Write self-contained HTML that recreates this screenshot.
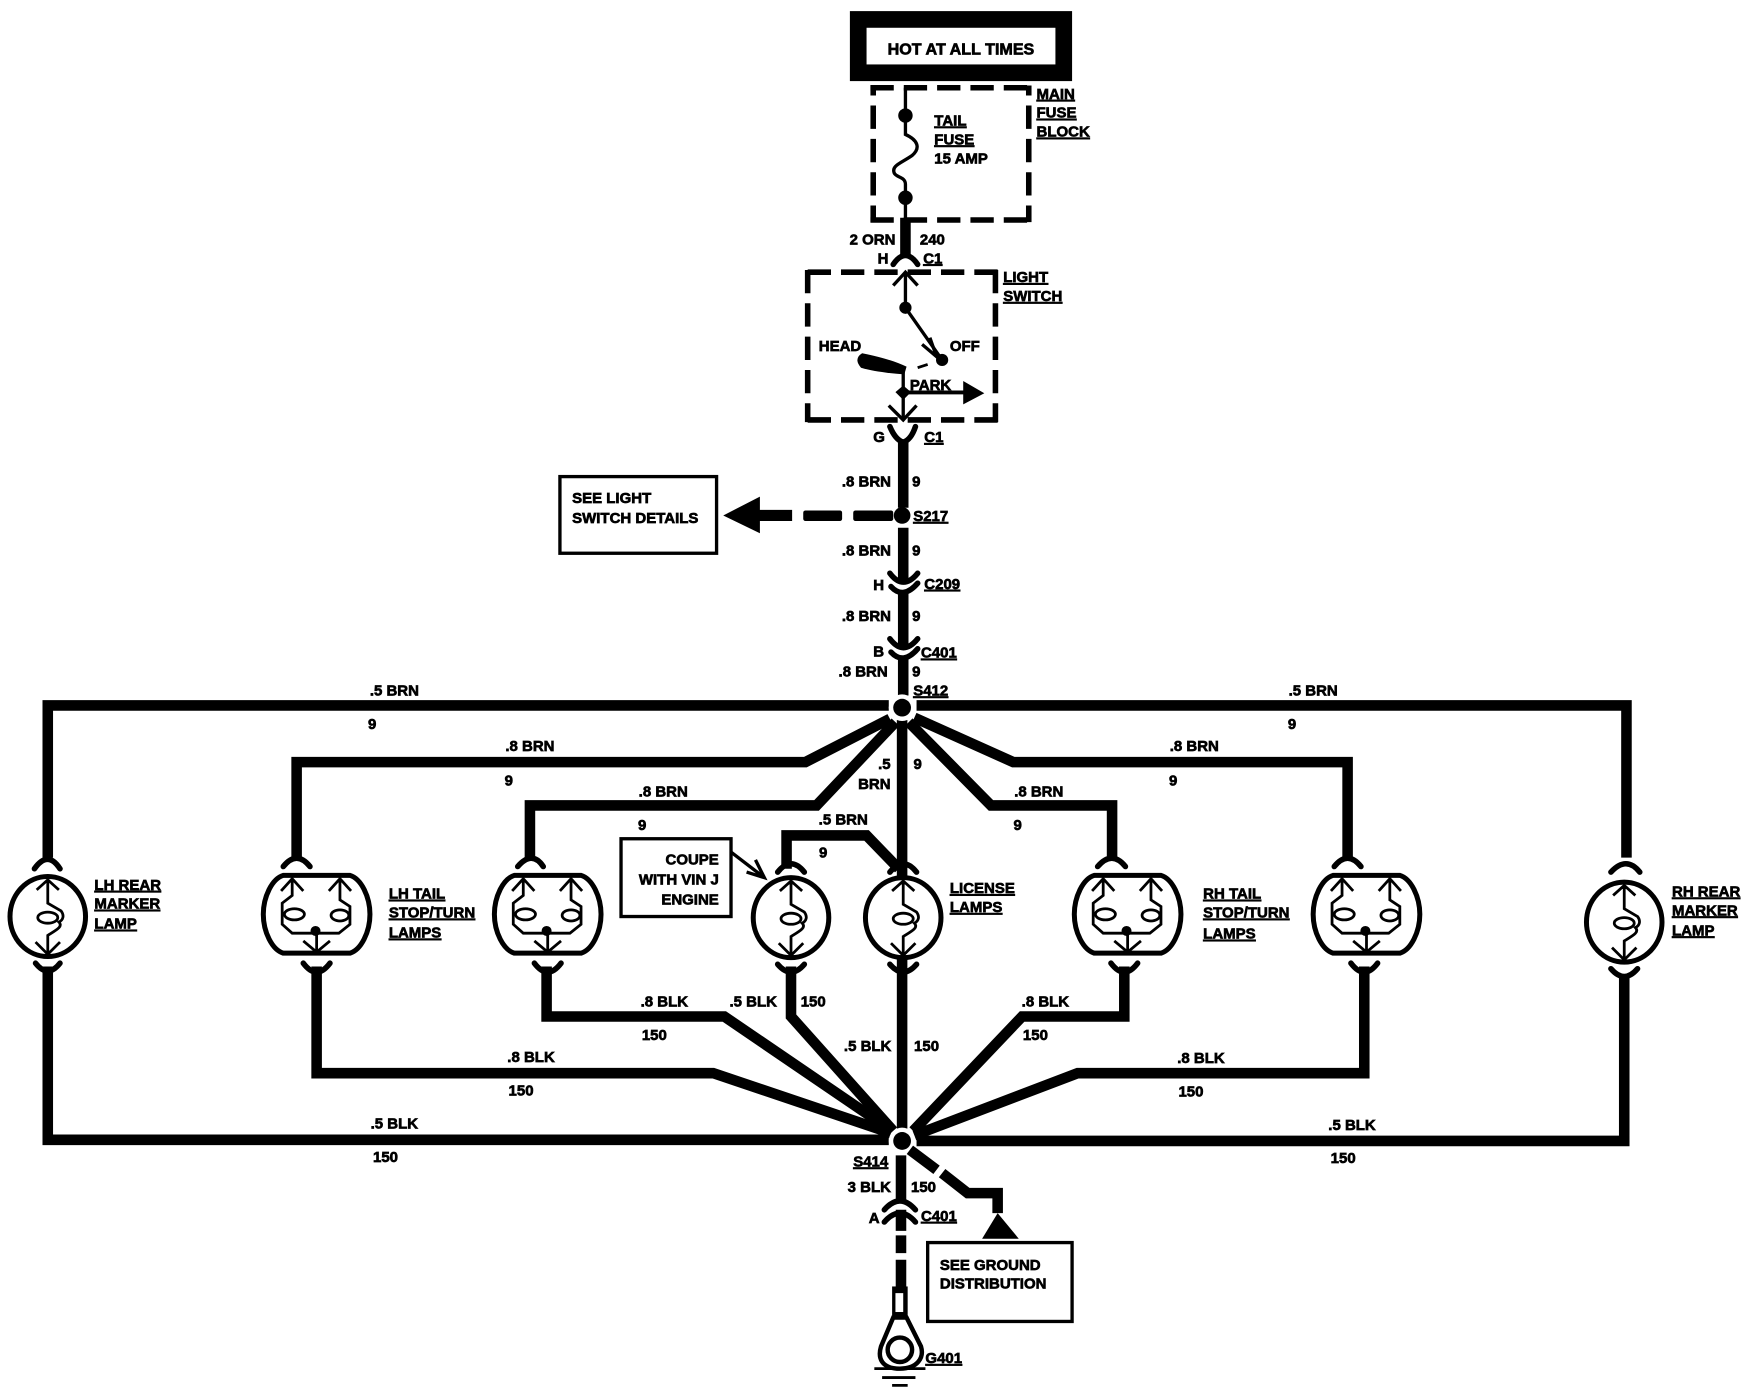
<!DOCTYPE html>
<html>
<head>
<meta charset="utf-8">
<style>
html,body{margin:0;padding:0;background:#fff}
svg{display:block}
text{font-family:"Liberation Sans",sans-serif;font-weight:700;font-size:13.5px;fill:#000;stroke:#000;stroke-width:.6px;text-decoration-thickness:1.5px;text-underline-offset:2px}
.u{text-decoration:underline}
.m{text-anchor:middle}
.e{text-anchor:end}
.w{fill:none;stroke:#000;stroke-width:9.5;stroke-linejoin:miter}
.t{fill:none;stroke:#000;stroke-width:3}
.a{fill:none;stroke:#000;stroke-width:5;stroke-linecap:round}
.l{fill:none;stroke:#000;stroke-width:2.5}
.o{fill:#fff;stroke:#000;stroke-width:4.5}
.d{fill:none;stroke:#000;stroke-width:5;stroke-dasharray:21 9}
</style>
</head>
<body>
<svg xmlns="http://www.w3.org/2000/svg" width="1742" height="1392" viewBox="0 0 1568 1253" preserveAspectRatio="none">
<rect width="1568" height="1253" fill="#fff"/>

<!-- Hot box -->
<rect x="772.500" y="17.500" width="185" height="48" fill="#fff" stroke="#000" stroke-width="15"/>
<text x="865" y="49" class="m" style="font-size:14.500px">HOT AT ALL TIMES</text>

<!-- Fuse block -->
<path class="d" d="M783.500 79H928M783.500 198H928"/>
<path class="d" style="stroke-dashoffset:12" d="M786 77V200M926 77V200"/>
<path class="t" d="M815 79V121C826 126 829 133 821 140C811 147 802 149 805 156C807 160 815 159 815 166V198"/>
<circle cx="815" cy="104" r="6.500"/><circle cx="815" cy="178" r="6.500"/>
<text x="841" y="113" class="u">TAIL</text>
<text x="841" y="130" class="u">FUSE</text>
<text x="841" y="147">15 AMP</text>
<text x="933" y="89" class="u">MAIN</text>
<text x="933" y="106" class="u">FUSE</text>
<text x="933" y="123" class="u">BLOCK</text>
<path class="w" d="M815 196V229"/>
<path class="a" d="M804 238Q815 222 826 238"/>
<text x="806" y="220" class="e">2 ORN</text>
<text x="828" y="220">240</text>
<text x="790" y="237">H</text>
<text x="831" y="237" class="u">C1</text>

<!-- Light switch -->
<path class="d" d="M727 245H898M727 378H898"/>
<path class="d" d="M727 243V380M896 243V380"/>
<path class="t" d="M804 257L815 245L826 257M815 245V277L848 324"/>
<path class="t" d="M830 310L843 321L837 304"/>
<circle cx="815" cy="277" r="5.500"/><circle cx="848" cy="324" r="5.500"/>
<path d="M776 318C795 322 805 325 816 330L814 337C800 336 785 334 775 331Q768 323 776 318Z"/>
<path d="M826 331L835 328" stroke="#000" stroke-width="2.500"/>
<path class="t" d="M813 332V378"/>
<path d="M813 347L820 353L813 360L806 353Z"/>
<path d="M813 351.500H867V343L886 354L867 364V355H813Z"/>
<path class="t" d="M800 365L813 378L825 365"/>
<text x="737" y="316">HEAD</text>
<text x="855" y="316">OFF</text>
<text x="819" y="351">PARK</text>
<text x="903" y="254" class="u">LIGHT</text>
<text x="903" y="271" class="u">SWITCH</text>
<path class="a" d="M801 384Q806 396 813 398Q820 396 824 384"/>
<path class="w" d="M813 396V457"/>
<text x="786" y="398">G</text>
<text x="832" y="398" class="u">C1</text>
<text x="802" y="438" class="e">.8 BRN</text>
<text x="821" y="438">9</text>
<circle cx="812" cy="464" r="7.500"/>
<text x="822" y="469" class="u">S217</text>
<rect x="504" y="429" width="141" height="69" fill="#fff" stroke="#000" stroke-width="3"/>
<text x="515" y="453">SEE LIGHT</text>
<text x="515" y="471">SWITCH DETAILS</text>
<path d="M651 464L684 447V459H713V469H684V480Z"/>
<rect x="723" y="459.500" width="35" height="9.500" rx="2"/>
<rect x="768" y="459.500" width="36" height="9.500" rx="2"/>
<path class="w" d="M813 475V525"/>
<text x="802" y="500" class="e">.8 BRN</text>
<text x="821" y="500">9</text>
<path class="a" d="M801 516Q813 532 826 516M802 528Q813 540 826 525"/>
<text x="786" y="531">H</text>
<text x="832" y="530" class="u">C209</text>
<path class="w" d="M813 534V583"/>
<text x="802" y="559" class="e">.8 BRN</text>
<text x="821" y="559">9</text>
<path class="a" d="M801 575Q813 591 826 575M802 587Q813 599 826 584"/>
<text x="786" y="591">B</text>
<text x="829" y="592" class="u">C401</text>
<path class="w" d="M813 593V626"/>
<text x="799" y="609" class="e">.8 BRN</text>
<text x="821" y="609">9</text>
<text x="822" y="626" class="u">S412</text>

<!-- Upper harness -->
<path class="w" d="M800 635H43V772"/>
<path class="w" d="M825 635H1464V772"/>
<path class="w" d="M801 647L725 686H267V772"/>
<path class="w" d="M806 650L735 725H477V772"/>
<path class="w" d="M812 648V1016"/>
<path class="w" d="M708 782V752H780L809 782"/>
<path class="w" d="M823 646L912 686H1213V772"/>
<path class="w" d="M818 650L892 725H1001V772"/>
<circle cx="812" cy="637" r="12" fill="#fff"/>
<circle cx="812" cy="637" r="8"/>
<text x="355" y="626" class="m">.5 BRN</text><text x="335" y="656" class="m">9</text>
<text x="1182" y="626" class="m">.5 BRN</text><text x="1163" y="656" class="m">9</text>
<text x="477" y="676" class="m">.8 BRN</text><text x="458" y="707" class="m">9</text>
<text x="597" y="717" class="m">.8 BRN</text><text x="578" y="747" class="m">9</text>
<text x="1075" y="676" class="m">.8 BRN</text><text x="1056" y="707" class="m">9</text>
<text x="935" y="717" class="m">.8 BRN</text><text x="916" y="747" class="m">9</text>
<text x="759" y="742" class="m">.5 BRN</text><text x="741" y="772" class="m">9</text>
<text x="796" y="692" class="m">.5</text><text x="787" y="710" class="m">BRN</text><text x="826" y="692" class="m">9</text>

<!-- Lower harness -->
<path class="w" d="M43 870V1026H800"/>
<path class="w" d="M285 870V966H642L802 1020"/>
<path class="w" d="M492 870V915H652L803 1018"/>
<path class="w" d="M712 870V915L804 1018"/>
<path class="w" d="M1012 870V915H920L822 1018"/>
<path class="w" d="M1228 870V966H970L823 1022"/>
<path class="w" d="M1462 880V1027H825"/>
<circle cx="812" cy="1027" r="12" fill="#fff"/>
<circle cx="812" cy="1027" r="8"/>
<text x="355" y="1016" class="m">.5 BLK</text><text x="347" y="1046" class="m">150</text>
<text x="478" y="956" class="m">.8 BLK</text><text x="469" y="986" class="m">150</text>
<text x="598" y="906" class="m">.8 BLK</text><text x="589" y="936" class="m">150</text>
<text x="678" y="906" class="m">.5 BLK</text><text x="732" y="906" class="m">150</text>
<text x="781" y="946" class="m">.5 BLK</text><text x="834" y="946" class="m">150</text>
<text x="941" y="906" class="m">.8 BLK</text><text x="932" y="936" class="m">150</text>
<text x="1081" y="957" class="m">.8 BLK</text><text x="1072" y="987" class="m">150</text>
<text x="1217" y="1017" class="m">.5 BLK</text><text x="1209" y="1047" class="m">150</text>

<!-- Single lamps -->
<g transform="translate(43,825)">
<path class="a" d="M-12 -43Q0 -60 11 -43"/>
<ellipse class="o" rx="34" ry="36"/>
<path class="l" d="M-10 -24L0 -33L10 -24M0 -33V-12L12 -5C15 -1 14 3 10 5C14 9 8 12 0 17V34M-11 23L0 34L11 23"/>
<ellipse class="l" cx="0" cy="1" rx="9" ry="5"/>
<path class="a" d="M-11 42Q0 56 11 42"/>
</g>
<g transform="translate(712,826)">
<path class="a" d="M-12 -41Q0 -56 12 -41"/>
<ellipse class="o" rx="34" ry="36"/>
<path class="l" d="M-10 -24L0 -33L10 -24M0 -33V-12L12 -5C15 -1 14 3 10 5C14 9 8 12 0 17V34M-11 23L0 34L11 23"/>
<ellipse class="l" cx="0" cy="1" rx="9" ry="5"/>
<path class="a" d="M-12 42Q0 56 12 42"/>
</g>
<g transform="translate(813,826)">
<path class="a" d="M-12 -41Q0 -56 12 -41"/>
<ellipse class="o" rx="34" ry="36"/>
<path class="l" d="M-10 -24L0 -33L10 -24M0 -33V-12L12 -5C15 -1 14 3 10 5C14 9 8 12 0 17V34M-11 23L0 34L11 23"/>
<ellipse class="l" cx="0" cy="1" rx="9" ry="5"/>
<path class="a" d="M-12 42Q0 56 12 42"/>
</g>
<g transform="translate(1462,830)">
<path class="a" d="M-12 -45Q2 -60 14 -45"/>
<ellipse class="o" rx="34" ry="36"/>
<path class="l" d="M-10 -24L0 -33L10 -24M0 -33V-12L12 -5C15 -1 14 3 10 5C14 9 8 12 0 17V34M-11 23L0 34L11 23"/>
<ellipse class="l" cx="0" cy="1" rx="9" ry="5"/>
<path class="a" d="M-12 42Q0 56 12 42"/>
</g>

<!-- Tail lamps -->
<g transform="translate(285,823)">
<path class="a" d="M-30 -43Q-18 -58 -6 -43"/>
<path class="o" d="M-30 -35H30C40 -32 48 -16 48 0C48 16 40 32 30 35H-30C-40 32 -48 16 -48 0C-48 -16 -40 -32 -30 -35Z"/>
<path class="l" d="M-32 -21L-22 -32L-12 -21M-22 -32V-17L-31 -10V9L-22 17H20L30 9V-7L21 -13V-32M11 -21L21 -32L31 -21M-12 24L0 34L12 24M0 17V34"/>
<ellipse class="l" cx="-20" cy="0" rx="9" ry="5"/><ellipse class="l" cx="21" cy="1" rx="8" ry="5"/>
<circle cx="-1" cy="15" r="4.500"/>
<path class="a" d="M-12 44Q0 60 12 44"/>
</g>
<g transform="translate(493,823)">
<path class="a" d="M-27 -43Q-14 -58 -4 -43"/>
<path class="o" d="M-30 -35H30C40 -32 48 -16 48 0C48 16 40 32 30 35H-30C-40 32 -48 16 -48 0C-48 -16 -40 -32 -30 -35Z"/>
<path class="l" d="M-32 -21L-22 -32L-12 -21M-22 -32V-17L-31 -10V9L-22 17H20L30 9V-7L21 -13V-32M11 -21L21 -32L31 -21M-12 24L0 34L12 24M0 17V34"/>
<ellipse class="l" cx="-20" cy="0" rx="9" ry="5"/><ellipse class="l" cx="21" cy="1" rx="8" ry="5"/>
<circle cx="-1" cy="15" r="4.500"/>
<path class="a" d="M-12 44Q0 60 12 44"/>
</g>
<g transform="translate(1015,823)">
<path class="a" d="M-27 -43Q-14 -58 -2 -43"/>
<path class="o" d="M-30 -35H30C40 -32 48 -16 48 0C48 16 40 32 30 35H-30C-40 32 -48 16 -48 0C-48 -16 -40 -32 -30 -35Z"/>
<path class="l" d="M-32 -21L-22 -32L-12 -21M-22 -32V-17L-31 -10V9L-22 17H20L30 9V-7L21 -13V-32M11 -21L21 -32L31 -21M-12 24L0 34L12 24M0 17V34"/>
<ellipse class="l" cx="-20" cy="0" rx="9" ry="5"/><ellipse class="l" cx="21" cy="1" rx="8" ry="5"/>
<circle cx="-1" cy="15" r="4.500"/>
<path class="a" d="M-15 44Q-3 60 9 44"/>
</g>
<g transform="translate(1230,823)">
<path class="a" d="M-29 -43Q-17 -58 -5 -43"/>
<path class="o" d="M-30 -35H30C40 -32 48 -16 48 0C48 16 40 32 30 35H-30C-40 32 -48 16 -48 0C-48 -16 -40 -32 -30 -35Z"/>
<path class="l" d="M-32 -21L-22 -32L-12 -21M-22 -32V-17L-31 -10V9L-22 17H20L30 9V-7L21 -13V-32M11 -21L21 -32L31 -21M-12 24L0 34L12 24M0 17V34"/>
<ellipse class="l" cx="-20" cy="0" rx="9" ry="5"/><ellipse class="l" cx="21" cy="1" rx="8" ry="5"/>
<circle cx="-1" cy="15" r="4.500"/>
<path class="a" d="M-14 44Q-2 60 10 44"/>
</g>

<!-- Lamp labels -->
<text x="85" y="801" class="u">LH REAR</text><text x="85" y="818" class="u">MARKER</text><text x="85" y="836" class="u">LAMP</text>
<text x="350" y="809" class="u">LH TAIL</text><text x="350" y="826" class="u">STOP/TURN</text><text x="350" y="844" class="u">LAMPS</text>
<text x="855" y="804" class="u">LICENSE</text><text x="855" y="821" class="u">LAMPS</text>
<text x="1083" y="809" class="u">RH TAIL</text><text x="1083" y="826" class="u">STOP/TURN</text><text x="1083" y="845" class="u">LAMPS</text>
<text x="1505" y="807" class="u">RH REAR</text><text x="1505" y="824" class="u">MARKER</text><text x="1505" y="842" class="u">LAMP</text>

<!-- Coupe box -->
<rect x="559" y="755" width="99" height="70" fill="#fff" stroke="#000" stroke-width="3"/>
<text x="647" y="778" class="e">COUPE</text>
<text x="647" y="796" class="e">WITH VIN J</text>
<text x="647" y="814" class="e">ENGINE</text>
<path class="t" d="M658 767L688 790M672 785L688 790L680 774"/>

<!-- Ground section -->
<text x="768" y="1050" class="u">S414</text>
<path class="w" d="M811 1040V1080"/>
<text x="802" y="1073" class="e">3 BLK</text>
<text x="820" y="1073">150</text>
<path class="a" d="M796 1089Q810 1073 824 1089M796 1100Q810 1084 824 1100"/>
<path class="w" d="M811 1089V1108M811 1112V1128M811 1134V1160"/>
<text x="782" y="1101">A</text>
<text x="829" y="1099" class="u">C401</text>
<path class="w" d="M819 1035L843 1053M848 1056L871 1074H898V1092"/>
<path d="M898 1092L884 1115H917Z"/>
<rect x="835" y="1118.500" width="130" height="71" fill="#fff" stroke="#000" stroke-width="3"/>
<text x="846" y="1143">SEE GROUND</text>
<text x="846" y="1160">DISTRIBUTION</text>
<rect x="803" y="1158" width="14" height="30"/>
<rect x="806" y="1164" width="7" height="17" fill="#fff"/>
<path d="M804 1186L793 1212C790 1222 793 1232 810 1232C826 1232 832 1222 829 1212L816 1186Z" fill="#fff" stroke="#000" stroke-width="4"/>
<circle cx="810" cy="1215" r="11" fill="#fff" stroke="#000" stroke-width="4"/>
<path d="M787 1232H833M794 1240H824M803 1247H817" stroke="#000" stroke-width="2.500" fill="none"/>
<text x="833" y="1227" class="u">G401</text>
</svg>
</body>
</html>
